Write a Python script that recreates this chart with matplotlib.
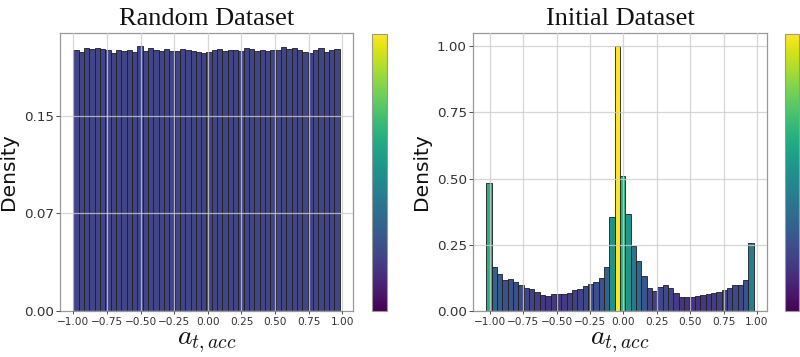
import numpy as np
import matplotlib
matplotlib.use("Agg")
import matplotlib.pyplot as plt
from matplotlib import cm
from matplotlib.colors import Normalize, PowerNorm
from matplotlib.ticker import FixedLocator, FuncFormatter

# ---------------- data ----------------
random_range = (-1.0, 0.98)
random_density = [
    0.2006, 0.1993, 0.2021, 0.2011, 0.2021, 0.2013, 0.2006, 0.1980, 0.2006, 0.1998,
    0.2006, 0.1990, 0.2034, 0.1995, 0.2019, 0.2006, 0.1995, 0.2011, 0.2001, 0.2001,
    0.2013, 0.2006, 0.2001, 0.1993, 0.1980, 0.1988, 0.2006, 0.2016, 0.2001, 0.2006,
    0.2006, 0.2001, 0.2021, 0.2011, 0.2001, 0.2006, 0.2001, 0.2003, 0.2006, 0.2029,
    0.2016, 0.2019, 0.2006, 0.1993, 0.1980, 0.2006, 0.2019, 0.1990, 0.2006, 0.2011,
]

initial_range = (-1.025, 0.975)
initial_density = [
    0.484,
    0.168, 0.140, 0.117, 0.121, 0.111, 0.098, 0.088, 0.082, 0.073, 0.061,
    0.057, 0.063, 0.063, 0.063, 0.069, 0.080, 0.082, 0.095, 0.102, 0.111,
    0.124, 0.168,
    0.354, 1.000, 0.511,
    0.366, 0.246, 0.187, 0.133, 0.086, 0.077, 0.090, 0.098, 0.086, 0.067,
    0.054, 0.054, 0.051, 0.057, 0.061, 0.063, 0.069, 0.073, 0.080, 0.088,
    0.098, 0.098, 0.117, 0.256,
]

titles = ["Random Dataset", "Initial Dataset"]
x_ticks = [-1.0, -0.75, -0.5, -0.25, 0.0, 0.25, 0.5, 0.75, 1.0]
random_yticks = [0.0, 0.075, 0.15]
initial_yticks = [0.0, 0.25, 0.5, 0.75, 1.0]

# ---------------- figure ----------------
W, H = 800, 357
fig = plt.figure(figsize=(W / 100, H / 100), dpi=100)
plt.rcParams['mathtext.fontset'] = 'cm'

def px(l, r, t, b):
    return [l / W, 1 - b / H, (r - l) / W, (b - t) / H]

ax1 = fig.add_axes(px(60, 353, 33, 311))
cax1 = fig.add_axes(px(372, 387, 34, 311))
ax2 = fig.add_axes(px(473, 767, 33, 311))
cax2 = fig.add_axes(px(785, 799, 34, 311))

cmap = matplotlib.colormaps['viridis']
norm1 = Normalize(0, 1)
norm2 = PowerNorm(gamma=0.65, vmin=0, vmax=1)

fmt = FuncFormatter(lambda v, p: ('%.2f' % v).replace('-', '\u2212'))

def draw(ax, cax, rng, dens, norm, yticks, title):
    dens = np.asarray(dens)
    edges = np.linspace(rng[0], rng[1], len(dens) + 1)
    ax.bar(edges[:-1], dens, width=np.diff(edges), align='edge',
           color=cmap(norm(dens)), edgecolor='#1e1e1e', linewidth=0.6, zorder=1)
    ax.set_axisbelow(False)
    ax.grid(True, color='#cccccc', linewidth=0.9, alpha=0.8, zorder=3)
    ax.xaxis.set_major_locator(FixedLocator(x_ticks))
    ax.xaxis.set_major_formatter(fmt)
    ax.yaxis.set_major_locator(FixedLocator(yticks))
    ax.yaxis.set_major_formatter(fmt)
    ax.tick_params(axis='x', labelsize=7.6, colors='#333333', length=2.5, width=0.6, pad=1.5)
    ax.tick_params(axis='y', labelsize=9.7, colors='#333333', length=3, width=0.6, pad=1.5)
    for s in ax.spines.values():
        s.set_color('#999999')
        s.set_linewidth(0.9)
    ax.set_title(title, family='Liberation Serif', fontsize=19, pad=6, color='#111111')
    ax.set_ylabel('Density', fontsize=14.5, color='#111111', labelpad=4)
    ax.set_xlabel(r'$a_{t,acc}$', fontsize=20, color='#111111', labelpad=0)
    sm = cm.ScalarMappable(norm=Normalize(0, 1), cmap=cmap)
    cb = fig.colorbar(sm, cax=cax)
    cb.set_ticks([])
    cb.outline.set_edgecolor('#999999')
    cb.outline.set_linewidth(0.8)

draw(ax1, cax1, random_range, random_density, norm1, random_yticks, titles[0])
draw(ax2, cax2, initial_range, initial_density, norm2, initial_yticks, titles[1])

fig.savefig('out.png', dpi=100)
